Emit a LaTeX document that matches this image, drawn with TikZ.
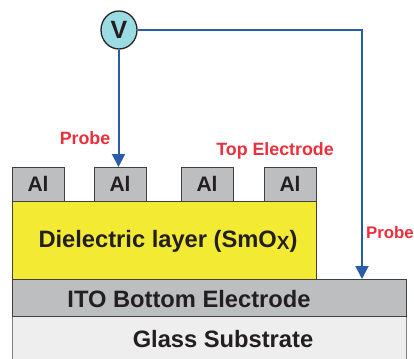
\documentclass[tikz,border=0pt]{standalone}
\usepackage{fontspec}
\setmainfont{Liberation Sans}
\usetikzlibrary{arrows.meta,shapes.geometric}
\definecolor{fio}{HTML}{2A5CAA}
\definecolor{vermelho}{HTML}{EE2E3A}
\definecolor{cinza}{HTML}{BCBEC0}
\definecolor{vidro}{HTML}{EEEEEE}
\definecolor{amarelo}{HTML}{F3EA33}
\definecolor{ciano}{HTML}{9BDBE3}
\definecolor{texto}{HTML}{231F20}
\begin{document}
\begin{tikzpicture}[x=1pt, y=-1pt]
        \tikzstyle{eletrodo}=[fill=cinza, draw=black!75, line width=0.9pt, inner sep=0pt, minimum width=52pt, minimum height=34pt, text=texto, font=\bfseries\fontsize{21}{21}\selectfont]
        \tikzstyle{camada}=[draw=black!75, line width=0.9pt, inner sep=0pt]
        \tikzstyle{rotulo}=[text=texto, inner sep=0pt, font=\bfseries\fontsize{23.7}{23.7}\selectfont]
        \tikzstyle{sonda}=[text=vermelho, inner sep=0pt, font=\bfseries\fontsize{17.8}{17.8}\selectfont]
        \tikzstyle{fio}=[draw=fio, line width=2pt, -{Triangle[length=13pt, width=13pt]}]

        \useasboundingbox (0,0) rectangle (414,358);

        \node (glass) at (209,338)[camada, fill=vidro, draw=black!50, minimum width=394pt, minimum height=44pt]{};
        \node (glasstext) at (223,339)[rotulo]{Glass Substrate};
        \node (ito) at (209,298)[camada, fill=cinza, minimum width=394pt, minimum height=37pt]{};
        \node (itotext) at (189,299)[rotulo]{ITO Bottom Electrode};
        \node (dielectric) at (164,240)[camada, fill=amarelo, minimum width=304pt, minimum height=78pt]{};
        \node (dielectrictext) at (168,241)[rotulo]{Dielectric layer (SmO\raisebox{-2.5pt}{\fontsize{19}{19}\selectfont X})};

        \node (al1) at (38,184)[eletrodo]{Al};
        \node (al2) at (120,184)[eletrodo]{Al};
        \node (al3) at (207,184)[eletrodo]{Al};
        \node (al4) at (290,184)[eletrodo]{Al};

        \node (V) at (119,30)[ellipse, fill=ciano, draw=black!85, line width=1.3pt, minimum width=36pt, minimum height=38pt, inner sep=0pt, text=texto, font=\bfseries\fontsize{25}{25}\selectfont]{V};

        \coordinate (topo) at (118.5,167);
        \coordinate (base) at (362,279);

        \draw[fio] (V.south -| topo) -- (topo);
        \draw[fio] (V.east) -| (base);

        \node (probe1) at (85,138)[sonda]{Probe};
        \node (topelectrode) at (275,151)[sonda]{Top Electrode};
        \node (probe2) at (366,232)[sonda, anchor=west, font=\bfseries\fontsize{16.8}{16.8}\selectfont]{Probe};
      \end{tikzpicture}
\end{document}
